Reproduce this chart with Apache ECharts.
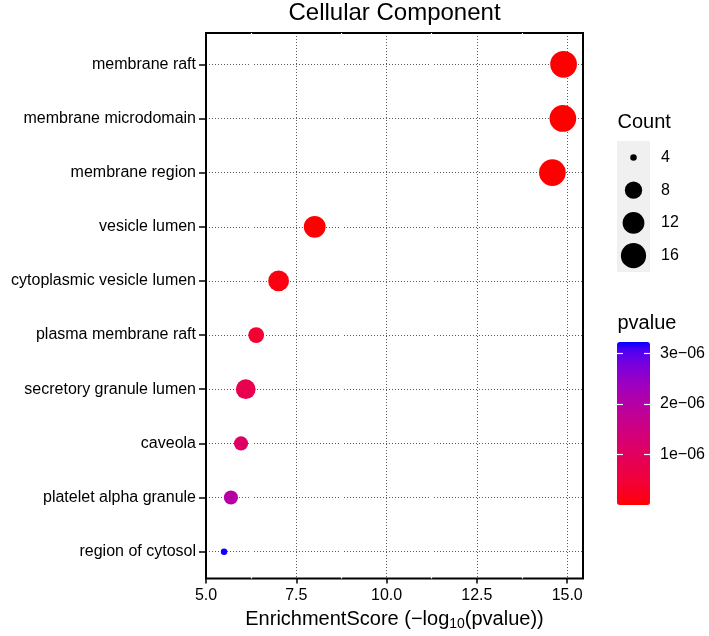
<!DOCTYPE html>
<html>
<head>
<meta charset="utf-8">
<script src="https://cdn.jsdelivr.net/npm/echarts@6/dist/echarts.min.js"></script>
<style>
  html, body { margin: 0; padding: 0; background: #fff; }
  #chart { width: 709px; height: 636px; }
</style>
</head>
<body>
<div id="chart"></div>
<script>
var terms = [
  'membrane raft',
  'membrane microdomain',
  'membrane region',
  'vesicle lumen',
  'cytoplasmic vesicle lumen',
  'plasma membrane raft',
  'secretory granule lumen',
  'caveola',
  'platelet alpha granule',
  'region of cytosol'
];
var scores = [14.90, 14.88, 14.59, 8.01, 7.01, 6.39, 6.10, 5.97, 5.69, 5.50];
var counts = [18, 18, 18, 12, 11, 7, 10, 6, 6, 4];
var pvalues = [1.26e-15, 1.32e-15, 2.57e-15, 9.8e-9, 9.8e-8, 4.1e-7, 7.9e-7, 1.07e-6, 2.0e-6, 3.2e-6];

var xTicks = [5, 7.5, 10, 12.5, 15];
var xMinor = [6.25, 8.75, 11.25, 13.75];
var countBreaks = [4, 8, 12, 16];
var pvalueTicks = [1e-6, 2e-6, 3e-6];
var pvalueMax = 3.23e-6;

var FONT = '"Liberation Sans", Arial, Helvetica, sans-serif';

// point diameter for a gene count (area-like scale as in ggplot)
function sizeFor(c) {
  return 6.5 + 5.4 * Math.sqrt(Math.max(0, c - 4));
}

// red -> blue ramp interpolated in Lab, like scale_colour_gradient
function toLinear(c) { c /= 255; return c <= 0.04045 ? c / 12.92 : Math.pow((c + 0.055) / 1.055, 2.4); }
function toByte(c) {
  c = c <= 0.0031308 ? 12.92 * c : 1.055 * Math.pow(c, 1 / 2.4) - 0.055;
  return Math.round(Math.max(0, Math.min(1, c)) * 255);
}
function f(t) { return t > 0.008856 ? Math.cbrt(t) : 7.787 * t + 16 / 116; }
function finv(t) { return t > 0.206893 ? t * t * t : (t - 16 / 116) / 7.787; }
function rgbToLab(rgb) {
  var r = toLinear(rgb[0]), g = toLinear(rgb[1]), b = toLinear(rgb[2]);
  var x = (0.4124 * r + 0.3576 * g + 0.1805 * b) / 0.95047;
  var y = (0.2126 * r + 0.7152 * g + 0.0722 * b);
  var z = (0.0193 * r + 0.1192 * g + 0.9505 * b) / 1.08883;
  return [116 * f(y) - 16, 500 * (f(x) - f(y)), 200 * (f(y) - f(z))];
}
function labToRgb(lab) {
  var fy = (lab[0] + 16) / 116, fx = fy + lab[1] / 500, fz = fy - lab[2] / 200;
  var x = finv(fx) * 0.95047, y = finv(fy), z = finv(fz) * 1.08883;
  var r = 3.2406 * x - 1.5372 * y - 0.4986 * z;
  var g = -0.9689 * x + 1.8758 * y + 0.0415 * z;
  var b = 0.0557 * x - 0.2040 * y + 1.0570 * z;
  return 'rgb(' + toByte(r) + ',' + toByte(g) + ',' + toByte(b) + ')';
}
var lowLab = rgbToLab([255, 0, 0]);
var highLab = rgbToLab([0, 0, 255]);
var ramp = [];
for (var k = 0; k <= 24; k++) {
  var t = k / 24;
  ramp.push(labToRgb([
    lowLab[0] + (highLab[0] - lowLab[0]) * t,
    lowLab[1] + (highLab[1] - lowLab[1]) * t,
    lowLab[2] + (highLab[2] - lowLab[2]) * t
  ]));
}

function sciLabel(v) {
  var e = Math.floor(Math.log10(v) + 1e-9);
  var m = Math.round(v / Math.pow(10, e));
  return m + 'e\u2212' + ('0' + (-e)).slice(-2);
}

var gridLine = { show: true, lineStyle: { type: [1, 2], color: '#5a5a5a', width: 1 } };

var chart = echarts.init(document.getElementById('chart'));

var option = {
  animation: false,
  textStyle: { fontFamily: FONT },
  graphic: [
    { type: 'text', x: 394.5, y: 13,
      style: { text: 'Cellular Component', fontSize: 24, fontFamily: FONT, fill: '#000',
               align: 'center', verticalAlign: 'middle', textAlign: 'center', textVerticalAlign: 'middle' } },
    { type: 'text', x: 617.5, y: 122.5,
      style: { text: 'Count', fontSize: 20, fontFamily: FONT, fill: '#000',
               align: 'left', verticalAlign: 'middle', textAlign: 'left', textVerticalAlign: 'middle' } },
    { type: 'text', x: 617.5, y: 323,
      style: { text: 'pvalue', fontSize: 20, fontFamily: FONT, fill: '#000',
               align: 'left', verticalAlign: 'middle', textAlign: 'left', textVerticalAlign: 'middle' } }
  ],
  grid: [
    { left: 206, right: 126, top: 64.3, bottom: 84.3 },
    { left: 206, right: 126, top: 33, bottom: 54, show: true, borderColor: '#000', borderWidth: 2,
      backgroundColor: 'transparent', z: 3 },
    { left: 617, width: 33, top: 141, height: 131, show: true, backgroundColor: '#F0F0F0', borderWidth: 0 },
    { left: 617, width: 33, top: 342, height: 163 },
    { left: 617, width: 33, top: 342, height: 163 }
  ],
  xAxis: [
    { gridIndex: 0, type: 'value', min: 5, max: 15.4375, show: false },
    { gridIndex: 1, type: 'value', min: 5, max: 15.4375, interval: 2.5,
      axisLine: { show: false },
      axisTick: { show: true, customValues: xTicks, length: 5, lineStyle: { color: '#000', width: 1.5 } },
      axisLabel: { customValues: xTicks, formatter: function (v) { return v.toFixed(1); },
                   fontSize: 16, color: '#000', margin: 9, fontFamily: FONT },
      splitLine: gridLine,
      name: '{a|EnrichmentScore (\u2212log}{s|10}{a|(pvalue))}',
      nameLocation: 'middle', nameGap: 28.5,
      nameTextStyle: {
        rich: {
          a: { fontSize: 20, fontFamily: FONT, color: '#000', lineHeight: 24 },
          s: { fontSize: 14, fontFamily: FONT, color: '#000', lineHeight: 14, verticalAlign: 'bottom' }
        }
      } },
    { gridIndex: 2, type: 'value', min: -1, max: 1, show: false },
    { gridIndex: 3, type: 'value', min: 0, max: 1, show: false },
    { gridIndex: 4, type: 'value', min: 0, max: 1, show: false }
  ],
  yAxis: [
    { gridIndex: 0, type: 'category', data: terms, inverse: true, boundaryGap: false,
      axisLine: { show: false },
      axisTick: { show: true, interval: 0, length: 7, lineStyle: { color: '#000', width: 1.5 } },
      axisLabel: { interval: 0, fontSize: 16, color: '#000', margin: 10, fontFamily: FONT },
      splitLine: { show: true, interval: 0, lineStyle: { type: [1, 2], color: '#5a5a5a', width: 1 } } },
    { gridIndex: 1, type: 'value', min: 0, max: 1, show: false },
    { gridIndex: 2, type: 'category', data: countBreaks.map(String), inverse: true, position: 'right',
      axisLine: { show: false }, axisTick: { show: false },
      axisLabel: { fontSize: 16, color: '#000', margin: 11, fontFamily: FONT },
      splitLine: { show: false } },
    { gridIndex: 3, type: 'value', min: 0, max: pvalueMax, position: 'right', z: 8,
      axisLine: { show: false, onZero: false },
      axisTick: { show: true, inside: true, length: 6, customValues: pvalueTicks, lineStyle: { color: '#fff', width: 1.2 } },
      axisLabel: { customValues: pvalueTicks, formatter: sciLabel, fontSize: 16, color: '#000', margin: 10, fontFamily: FONT },
      splitLine: { show: false } },
    { gridIndex: 4, type: 'value', min: 0, max: pvalueMax, position: 'left', offset: -6, z: 8,
      axisLine: { show: false, onZero: false },
      axisTick: { show: true, inside: false, length: 6, customValues: pvalueTicks, lineStyle: { color: '#fff', width: 1.2 } },
      axisLabel: { show: false },
      splitLine: { show: false } }
  ],
  visualMap: {
    type: 'continuous',
    seriesIndex: 0,
    dimension: 3,
    min: 0,
    max: pvalueMax,
    inRange: { color: ramp },
    left: 617,
    top: 342,
    itemWidth: 33,
    itemHeight: 163,
    padding: 0,
    z: 1,
    calculable: false,
    hoverLink: false,
    realtime: false
  },
  series: [
    { type: 'scatter', xAxisIndex: 0, yAxisIndex: 0, z: 10,
      data: terms.map(function (name, i) { return [scores[i], name, counts[i], pvalues[i]]; }),
      symbolSize: function (d) { return sizeFor(d[2]); },
      itemStyle: { opacity: 1 } },
    { type: 'scatter', xAxisIndex: 1, yAxisIndex: 1, data: [],
      markLine: { silent: true, symbol: 'none', label: { show: false },
                  lineStyle: { color: '#fff', width: 1.2, type: 'solid' },
                  data: xMinor.map(function (v) { return { xAxis: v }; }) } },
    { type: 'scatter', xAxisIndex: 2, yAxisIndex: 2,
      data: countBreaks.map(function (c) { return [0, String(c), c]; }),
      symbolSize: function (d) { return sizeFor(d[2]); },
      itemStyle: { color: '#000', opacity: 1 } },
    { type: 'scatter', xAxisIndex: 3, yAxisIndex: 3, data: [] },
    { type: 'scatter', xAxisIndex: 4, yAxisIndex: 4, data: [] }
  ]
};

chart.setOption(option);
window.addEventListener('resize', chart.resize);
</script>
</body>
</html>
